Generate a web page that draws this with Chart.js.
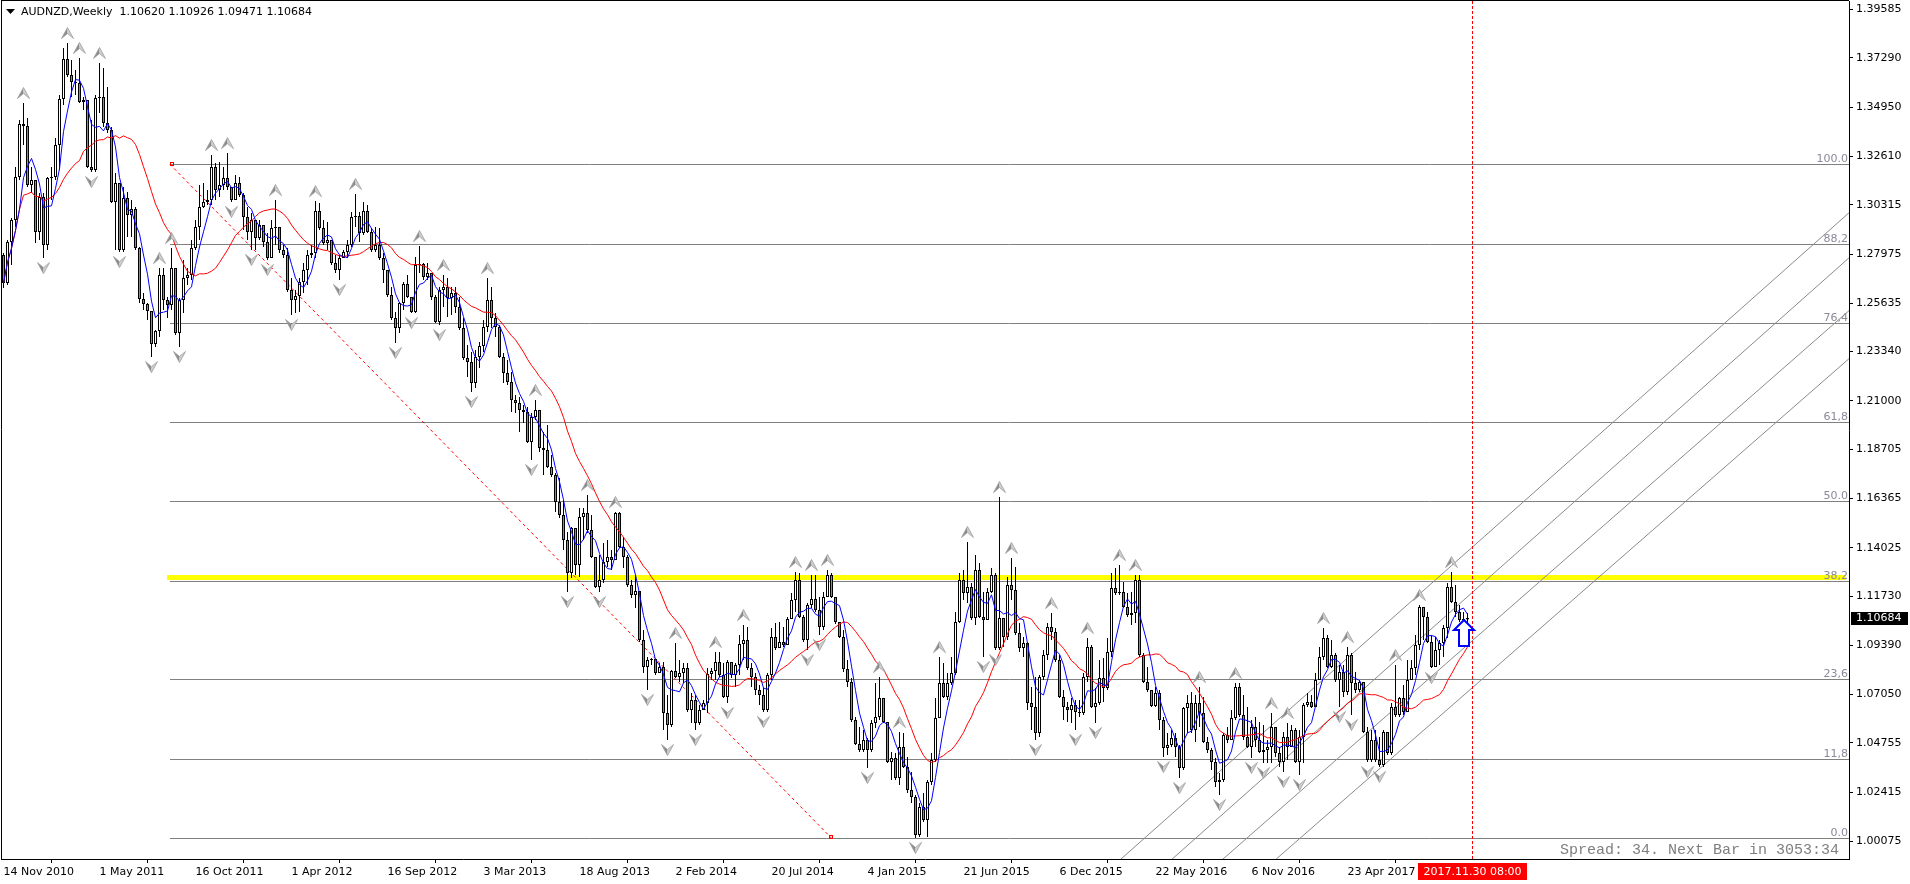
<!DOCTYPE html>
<html><head><meta charset="utf-8">
<script src="https://cdn.jsdelivr.net/npm/chart.js@4.4.0/dist/chart.umd.min.js"></script>
<style>html,body{margin:0;padding:0;background:#fff;overflow:hidden}canvas{display:block}</style>
</head><body><canvas id="c" width="1910" height="884"></canvas>
<script>
const symbolTitle = 'AUDNZD,Weekly  1.10620 1.10926 1.09471 1.10684';
const xTickBars = [0,24,48,72,96,120,144,168,192,216,240,264,288,312,336];
const xTickLabels = ['14 Nov 2010','1 May 2011','16 Oct 2011','1 Apr 2012','16 Sep 2012','3 Mar 2013','18 Aug 2013','2 Feb 2014','20 Jul 2014','4 Jan 2015','21 Jun 2015','6 Dec 2015','22 May 2016','6 Nov 2016','23 Apr 2017'];
const yTickLabels = ['1.39585','1.37290','1.34950','1.32610','1.30315','1.27975','1.25635','1.23340','1.21000','1.18705','1.16365','1.14025','1.11730','1.09390','1.07050','1.04755','1.02415','1.00075'];

const firstOpen = 1.2793;
const closes = [
1.2660,1.2855,1.2959,1.3163,1.3415,1.3406,1.3125,1.3149,1.2902,1.3068,
1.2840,1.3159,1.3163,1.3315,1.3534,1.3724,1.3648,1.3614,1.3610,1.3520,
1.3529,1.3211,1.3197,1.3539,1.3543,1.3420,1.3386,1.3045,1.3135,1.2817,
1.3064,1.2983,1.3011,1.2826,1.2584,1.2560,1.2527,1.2370,1.2432,1.2698,
1.2579,1.2555,1.2731,1.2422,1.2579,1.2683,1.2698,1.2826,1.2926,1.3021,
1.3045,1.3054,1.3211,1.3102,1.3125,1.3159,1.3116,1.3054,1.3135,1.3078,
1.2973,1.2902,1.2959,1.2873,1.2935,1.2855,1.2778,1.2921,1.2926,1.2817,
1.2793,1.2627,1.2579,1.2598,1.2665,1.2721,1.2793,1.2802,1.3002,1.2921,
1.2850,1.2864,1.2755,1.2721,1.2778,1.2807,1.2840,1.2973,1.2978,1.2897,
1.3002,1.2902,1.2817,1.2840,1.2778,1.2721,1.2603,1.2493,1.2446,1.2565,
1.2655,1.2593,1.2522,1.2745,1.2750,1.2688,1.2707,1.2593,1.2474,1.2627,
1.2641,1.2589,1.2612,1.2546,1.2446,1.2304,1.2285,1.2185,1.2308,1.2361,
1.2451,1.2579,1.2494,1.2451,1.2308,1.2232,1.2190,1.2104,1.2090,1.2057,
1.2047,1.1904,1.2023,1.2057,1.1876,1.1867,1.1786,1.1748,1.1619,1.1558,
1.1439,1.1282,1.1496,1.1320,1.1548,1.1567,1.1487,1.1358,1.1216,1.1249,
1.1335,1.1358,1.1344,1.1567,1.1406,1.1358,1.1225,1.1178,1.1197,1.0964,
1.0836,1.0869,1.0874,1.0807,1.0836,1.0617,1.0560,1.0817,1.0788,1.0807,
1.0831,1.0631,1.0679,1.0570,1.0631,1.0665,1.0803,1.0817,1.0860,1.0798,
1.0693,1.0860,1.0798,1.0845,1.0945,1.0964,1.0831,1.0788,1.0727,1.0703,
1.0631,1.0798,1.0978,1.0926,1.0954,1.0940,1.1064,1.1154,1.1249,1.1073,
1.0964,1.1130,1.1159,1.1107,1.1026,1.1168,1.1273,1.1168,1.1049,1.0978,
1.0826,1.0764,1.0584,1.0470,1.0441,1.0489,1.0441,1.0570,1.0598,1.0689,
1.0574,1.0384,1.0403,1.0308,1.0456,1.0361,1.0251,1.0218,1.0038,1.0171,
1.0109,1.0290,1.0394,1.0594,1.0760,1.0693,1.0760,1.0807,1.1049,1.1249,
1.1187,1.1216,1.1069,1.1297,1.1073,1.1059,1.1192,1.1273,1.0926,1.1069,
1.0978,1.1225,1.1202,1.0997,1.0926,1.0950,1.0665,1.0646,1.0522,1.0788,
1.0893,1.1026,1.1002,1.0869,1.0693,1.0646,1.0631,1.0655,1.0622,1.0617,
1.0788,1.0931,1.0646,1.0665,1.0783,1.0736,1.0907,1.1211,1.1187,1.1192,
1.1121,1.1083,1.1092,1.1249,1.0893,1.0764,1.0727,1.0650,1.0712,1.0584,
1.0451,1.0465,1.0498,1.0456,1.0356,1.0641,1.0665,1.0537,1.0665,1.0617,
1.0479,1.0441,1.0384,1.0290,1.0299,1.0513,1.0489,1.0594,1.0741,1.0608,
1.0503,1.0456,1.0551,1.0489,1.0432,1.0441,1.0456,1.0551,1.0427,1.0384,
1.0503,1.0456,1.0537,1.0384,1.0503,1.0655,1.0670,1.0646,1.0774,1.0883,
1.0974,1.0836,1.0893,1.0774,1.0812,1.0717,1.0893,1.0760,1.0727,1.0764,
1.0527,1.0394,1.0489,1.0394,1.0370,1.0527,1.0427,1.0646,1.0608,1.0689,
1.0622,1.0774,1.0831,1.0940,1.1121,1.1073,1.0955,1.0836,1.0916,1.0950,
1.1021,1.1216,1.1144,1.1097,1.1059,1.1062,1.10684];
const highs = [
1.2802,1.2864,1.2968,1.3211,1.3434,1.3515,1.3443,1.3211,1.3116,1.3087,
1.3087,1.3163,1.3211,1.3349,1.3553,1.3776,1.3800,1.3719,1.3672,1.3729,
1.3543,1.3496,1.3434,1.3553,1.3705,1.3681,1.3591,1.3401,1.3182,1.3102,
1.3116,1.3092,1.3054,1.3021,1.2831,1.2612,1.2565,1.2527,1.2437,1.2731,
1.2731,1.2593,1.2826,1.2731,1.2589,1.2769,1.2731,1.2864,1.2959,1.3125,
1.3135,1.3102,1.3268,1.3230,1.3235,1.3211,1.3277,1.3116,1.3173,1.3163,
1.3087,1.3021,1.2992,1.2959,1.2959,1.2935,1.2897,1.2959,1.3054,1.2926,
1.2840,1.2826,1.2683,1.2627,1.2683,1.2755,1.2817,1.2840,1.3049,1.3040,
1.2959,1.2950,1.2850,1.2793,1.2793,1.2817,1.2864,1.2997,1.3083,1.2997,
1.3045,1.3030,1.2921,1.2926,1.2921,1.2802,1.2721,1.2641,1.2522,1.2570,
1.2665,1.2698,1.2593,1.2783,1.2835,1.2755,1.2755,1.2707,1.2603,1.2641,
1.2698,1.2683,1.2641,1.2641,1.2593,1.2493,1.2365,1.2332,1.2341,1.2379,
1.2484,1.2683,1.2641,1.2517,1.2460,1.2327,1.2294,1.2237,1.2128,1.2118,
1.2080,1.2071,1.2042,1.2104,1.2018,1.1952,1.1985,1.1843,1.1757,1.1734,
1.1629,1.1477,1.1501,1.1496,1.1591,1.1591,1.1653,1.1558,1.1358,1.1368,
1.1425,1.1439,1.1392,1.1572,1.1572,1.1453,1.1368,1.1249,1.1273,1.1192,
1.1012,1.0883,1.0879,1.0860,1.0855,1.0860,1.0703,1.0822,1.0950,1.0869,
1.0855,1.0855,1.0712,1.0703,1.0655,1.0679,1.0831,1.0831,1.0907,1.0907,
1.0855,1.0869,1.0855,1.0855,1.0988,1.1035,1.1026,1.0855,1.0807,1.0750,
1.0736,1.0807,1.1021,1.1045,1.1049,1.1026,1.1073,1.1187,1.1287,1.1282,
1.1083,1.1140,1.1273,1.1273,1.1168,1.1192,1.1297,1.1282,1.1145,1.1045,
1.1012,1.0869,1.0783,1.0598,1.0551,1.0537,1.0498,1.0584,1.0760,1.0788,
1.0689,1.0574,1.0432,1.0427,1.0527,1.0522,1.0408,1.0337,1.0228,1.0190,
1.0237,1.0299,1.0427,1.0689,1.0883,1.0855,1.0807,1.0883,1.1097,1.1282,
1.1297,1.1430,1.1235,1.1368,1.1330,1.1192,1.1211,1.1306,1.1282,1.1643,
1.1069,1.1263,1.1354,1.1311,1.1045,1.0978,1.0955,1.0741,1.0788,1.0798,
1.0916,1.1045,1.1092,1.1021,1.0893,1.0727,1.0670,1.0689,1.0679,1.0679,
1.0807,1.0974,1.0940,1.0736,1.0869,1.0878,1.0974,1.1282,1.1306,1.1320,
1.1240,1.1187,1.1192,1.1273,1.1273,1.0902,1.0836,1.0717,1.0741,1.0727,
1.0598,1.0522,1.0537,1.0522,1.0465,1.0646,1.0703,1.0717,1.0703,1.0741,
1.0693,1.0503,1.0451,1.0403,1.0332,1.0522,1.0551,1.0631,1.0760,1.0760,
1.0703,1.0646,1.0584,1.0598,1.0574,1.0560,1.0489,1.0617,1.0551,1.0456,
1.0527,1.0570,1.0560,1.0546,1.0537,1.0665,1.0712,1.0703,1.0807,1.0931,
1.1021,1.0988,1.0964,1.0902,1.0845,1.0845,1.0931,1.0902,1.0812,1.0774,
1.0760,1.0551,1.0537,1.0537,1.0503,1.0537,1.0522,1.0665,1.0845,1.0693,
1.0750,1.0869,1.0869,1.0988,1.1130,1.1121,1.1097,1.0988,1.0978,1.0964,
1.1035,1.1235,1.1287,1.1225,1.1130,1.1097,1.10926];
const lows = [
1.2636,1.2650,1.2745,1.2926,1.3149,1.3315,1.3116,1.3087,1.2850,1.2864,
1.2778,1.2817,1.3054,1.3149,1.3197,1.3505,1.3638,1.3543,1.3553,1.3515,
1.3481,1.3206,1.3187,1.3187,1.3467,1.3401,1.3372,1.3040,1.2817,1.2807,
1.2807,1.2878,1.2878,1.2817,1.2565,1.2531,1.2484,1.2308,1.2356,1.2403,
1.2531,1.2493,1.2531,1.2413,1.2356,1.2517,1.2650,1.2674,1.2817,1.2864,
1.3016,1.3030,1.3030,1.3054,1.3068,1.3102,1.3102,1.3045,1.3054,1.3068,
1.2911,1.2864,1.2817,1.2817,1.2864,1.2831,1.2769,1.2778,1.2840,1.2802,
1.2778,1.2617,1.2508,1.2517,1.2522,1.2612,1.2650,1.2778,1.2778,1.2911,
1.2840,1.2817,1.2745,1.2707,1.2674,1.2778,1.2778,1.2831,1.2926,1.2855,
1.2888,1.2897,1.2807,1.2807,1.2769,1.2660,1.2593,1.2484,1.2375,1.2422,
1.2531,1.2589,1.2517,1.2517,1.2707,1.2674,1.2674,1.2579,1.2470,1.2460,
1.2546,1.2498,1.2508,1.2517,1.2437,1.2294,1.2213,1.2142,1.2161,1.2256,
1.2332,1.2427,1.2446,1.2403,1.2304,1.2185,1.2175,1.2047,1.2042,1.1952,
1.1995,1.1900,1.1819,1.2009,1.1857,1.1748,1.1781,1.1738,1.1572,1.1544,
1.1392,1.1192,1.1259,1.1273,1.1263,1.1439,1.1472,1.1354,1.1211,1.1192,
1.1235,1.1311,1.1297,1.1344,1.1401,1.1306,1.1216,1.1164,1.1116,1.0955,
1.0807,1.0727,1.0845,1.0798,1.0807,1.0537,1.0489,1.0551,1.0783,1.0764,
1.0760,1.0622,1.0570,1.0537,1.0560,1.0631,1.0617,1.0774,1.0774,1.0788,
1.0689,1.0665,1.0783,1.0741,1.0798,1.0869,1.0822,1.0741,1.0703,1.0655,
1.0622,1.0622,1.0774,1.0916,1.0931,1.0931,1.0940,1.1064,1.1097,1.1069,
1.0955,1.0916,1.1116,1.1097,1.0988,1.1012,1.1168,1.1164,1.1040,1.0973,
1.0812,1.0741,1.0574,1.0465,1.0432,1.0432,1.0356,1.0432,1.0546,1.0584,
1.0570,1.0380,1.0299,1.0299,1.0275,1.0356,1.0237,1.0190,1.0024,1.0028,
1.0099,1.0028,1.0275,1.0384,1.0594,1.0689,1.0679,1.0750,1.0798,1.1045,
1.1154,1.1140,1.1059,1.1035,1.1069,1.0883,1.1059,1.1187,1.0916,1.0916,
1.0931,1.0964,1.1154,1.0988,1.0907,1.0883,1.0631,1.0537,1.0489,1.0503,
1.0774,1.0869,1.0964,1.0860,1.0689,1.0584,1.0574,1.0570,1.0537,1.0598,
1.0608,1.0764,1.0641,1.0570,1.0655,1.0670,1.0727,1.0883,1.1178,1.1178,
1.1116,1.1073,1.1035,1.1045,1.0883,1.0760,1.0717,1.0646,1.0646,1.0537,
1.0408,1.0418,1.0456,1.0408,1.0308,1.0347,1.0522,1.0522,1.0479,1.0551,
1.0475,1.0427,1.0347,1.0266,1.0228,1.0290,1.0475,1.0489,1.0584,1.0598,
1.0489,1.0451,1.0404,1.0456,1.0427,1.0380,1.0380,1.0380,1.0408,1.0361,
1.0337,1.0394,1.0456,1.0380,1.0323,1.0380,1.0646,1.0641,1.0646,1.0774,
1.0869,1.0831,1.0831,1.0764,1.0646,1.0693,1.0703,1.0608,1.0712,1.0717,
1.0522,1.0384,1.0384,1.0384,1.0361,1.0361,1.0418,1.0418,1.0598,1.0598,
1.0608,1.0622,1.0774,1.0798,1.0916,1.0964,1.0950,1.0831,1.0836,1.0845,
1.0883,1.0974,1.1140,1.1073,1.1049,1.0978,1.09471];

const fastMaPeriod = 5;
const slowMaPeriod = 20;
const fibLevels = [0, 11.8, 23.6, 38.2, 50, 61.8, 76.4, 88.2, 100];
const fibLevelLabels = ['0.0','11,8','23,6','38,2','50.0','61,8','76,4','88,2','100.0'];
const fibAnchorHigh = {bar: 41.6, price: 1.3224};
const fibAnchorLow = {bar: 207.05, price: 1.0022};
const yellowLine = {fromBar: 40.9, price: 1.1261};
const channelLines = [
  [[279.1, 0.9919], [461.6, 1.2997]],
  [[291.9, 0.9919], [461.6, 1.2783]],
  [[304.6, 0.9919], [461.6, 1.2532]],
  [[317.9, 0.9919], [461.6, 1.2304]]
];
const cursorBar = 367.05;
const cursorLabel = '2017.11.30 08:00';
const lastPrice = 1.10684;
const arrowUp = {bar: 365, price: 1.1059};
const spreadText = 'Spread: 34. Next Bar in 3053:34';

// ---- derived structures ----
const n = closes.length;
const idx = closes.map((_, i) => i);
const opens = [firstOpen].concat(closes.slice(0, n - 1));
const hi = idx.map(i => Math.max(highs[i], opens[i], closes[i]));
const lo = idx.map(i => Math.min(lows[i], opens[i], closes[i]));
function sma(p) {
  return idx.map(i => { const s = Math.max(0, i - p + 1); let t = 0; for (let k = s; k <= i; k++) t += closes[k]; return {x: i, y: t / (i - s + 1)}; });
}
const upFr = [], dnFr = [];
for (let i = 2; i < n - 2; i++) {
  if (hi[i] > hi[i-1] && hi[i] > hi[i-2] && hi[i] >= hi[i+1] && hi[i] >= hi[i+2]) upFr.push({x: i, y: hi[i]});
  if (lo[i] < lo[i-1] && lo[i] < lo[i-2] && lo[i] <= lo[i+1] && lo[i] <= lo[i+2]) dnFr.push({x: i, y: lo[i]});
}
function fractalIcon(up) {
  const c = document.createElement('canvas'); c.width = 13; c.height = 32;
  const g = c.getContext('2d');
  const t = up ? 0.5 : 31.5, d = up ? 1 : -1;
  const tip = [6.5, t], L = [0.5, t + 11 * d], R = [12.5, t + 11 * d], N = [6.5, t + 6 * d];
  g.fillStyle = '#8a8a8a';
  g.beginPath(); g.moveTo(...tip); g.lineTo(...L); g.lineTo(...N); g.closePath(); g.fill();
  g.fillStyle = '#d0d0d0';
  g.beginPath(); g.moveTo(...tip); g.lineTo(...N); g.lineTo(...R); g.closePath(); g.fill();
  g.strokeStyle = '#9c9c9c'; g.lineWidth = 0.8;
  g.beginPath(); g.moveTo(...tip); g.lineTo(...L); g.lineTo(...N); g.lineTo(...R); g.closePath(); g.stroke();
  return c;
}

const FONT = 'DejaVu Sans';
const pxPerUnit = 2105.26;
const yMax = 1.39993;
const yMin = yMax - 858 / pxPerUnit;
const xMin = -0.625;
const xMax = xMin + 1848 / 4;

const annotations = {
  id: 'annotations',
  beforeDatasetsDraw(chart) {
    const {ctx, chartArea: a, scales: {x, y}} = chart;
    ctx.save();
    ctx.beginPath(); ctx.rect(a.left, a.top, a.right - a.left, a.bottom - a.top); ctx.clip();
    // yellow level
    const yy = y.getPixelForValue(yellowLine.price);
    const yx = Math.round(x.getPixelForValue(yellowLine.fromBar));
    ctx.fillStyle = '#ffff00';
    ctx.fillRect(yx, Math.round(yy - 2.5), a.right - 3 - yx, 5);
    // fibo levels
    const fx = Math.round(x.getPixelForValue(fibAnchorHigh.bar));
    ctx.strokeStyle = '#808080'; ctx.lineWidth = 1;
    const fibY = fibLevels.map(lv => Math.round(y.getPixelForValue(fibAnchorLow.price + (fibAnchorHigh.price - fibAnchorLow.price) * lv / 100)) + 0.5);
    fibY.forEach(py => { ctx.beginPath(); ctx.moveTo(fx, py); ctx.lineTo(a.right, py); ctx.stroke(); });
    // channel
    ctx.strokeStyle = '#8a8a8a';
    channelLines.forEach(l => {
      ctx.beginPath();
      ctx.moveTo(x.getPixelForValue(l[0][0]), y.getPixelForValue(l[0][1]));
      ctx.lineTo(x.getPixelForValue(l[1][0]), y.getPixelForValue(l[1][1]));
      ctx.stroke();
    });
    // fibo diagonal
    ctx.strokeStyle = '#ff0000'; ctx.setLineDash([3, 3]);
    const x1 = x.getPixelForValue(fibAnchorHigh.bar), y1 = y.getPixelForValue(fibAnchorHigh.price);
    const x2 = x.getPixelForValue(fibAnchorLow.bar), y2 = y.getPixelForValue(fibAnchorLow.price);
    ctx.beginPath(); ctx.moveTo(x1, y1); ctx.lineTo(x2, y2); ctx.stroke();
    ctx.setLineDash([]);
    ctx.strokeRect(Math.round(x1) + 0.5, Math.round(y1) - 1.5, 3, 3);
    ctx.strokeRect(Math.round(x2) - 2.5, Math.round(y2) - 2.5, 3, 3);
    // cursor vertical
    const cx = Math.round(x.getPixelForValue(cursorBar)) + 0.5;
    ctx.setLineDash([3, 2]);
    ctx.beginPath(); ctx.moveTo(cx, a.top); ctx.lineTo(cx, a.bottom); ctx.stroke();
    ctx.setLineDash([]);
    // fibo labels
    ctx.font = '11px "' + FONT + '"';
    ctx.fillStyle = '#8a8a9a'; ctx.textAlign = 'right'; ctx.textBaseline = 'alphabetic';
    fibY.forEach((py, k) => ctx.fillText(fibLevelLabels[k], a.right - 1, py - 3));
    ctx.restore();
  },
  afterDatasetsDraw(chart) {
    const {ctx, scales: {x, y}} = chart;
    const cx = Math.round(x.getPixelForValue(arrowUp.bar)), ty = Math.round(y.getPixelForValue(arrowUp.price));
    ctx.save();
    ctx.beginPath();
    ctx.moveTo(cx, ty); ctx.lineTo(cx + 10, ty + 10); ctx.lineTo(cx + 5, ty + 10); ctx.lineTo(cx + 5, ty + 26);
    ctx.lineTo(cx - 5, ty + 26); ctx.lineTo(cx - 5, ty + 10); ctx.lineTo(cx - 10, ty + 10); ctx.closePath();
    ctx.fillStyle = '#ffffff'; ctx.fill();
    ctx.strokeStyle = '#0000ff'; ctx.lineWidth = 2; ctx.stroke();
    ctx.restore();
  },
  afterDraw(chart) {
    const {ctx, chartArea: a, scales: {x, y}} = chart;
    ctx.save();
    // frame
    ctx.strokeStyle = '#000'; ctx.lineWidth = 1;
    ctx.beginPath(); ctx.moveTo(1.5, 0); ctx.lineTo(1.5, a.bottom); ctx.moveTo(1, 0.5); ctx.lineTo(a.right, 0.5); ctx.stroke();
    // title
    ctx.fillStyle = '#000';
    ctx.beginPath(); ctx.moveTo(6, 9); ctx.lineTo(15, 9); ctx.lineTo(10.5, 14); ctx.closePath(); ctx.fill();
    ctx.font = '11px "' + FONT + '"'; ctx.textAlign = 'left'; ctx.textBaseline = 'middle';
    ctx.fillText(symbolTitle, 21, 12.5);
    // price tag
    const py = Math.round(y.getPixelForValue(lastPrice));
    ctx.fillStyle = '#000'; ctx.fillRect(a.right + 2, py - 6, 57, 13);
    ctx.fillStyle = '#fff'; ctx.fillText(lastPrice.toFixed(5), a.right + 7, py + 0.5);
    // cursor date tag
    const cx = Math.round(x.getPixelForValue(cursorBar)) + 0.5;
    const w = Math.ceil(ctx.measureText(cursorLabel).width) + 10;
    ctx.fillStyle = '#ff0000'; ctx.fillRect(Math.round(cx - w / 2), a.bottom + 4, w, 17);
    ctx.fillStyle = '#fff'; ctx.textAlign = 'center'; ctx.fillText(cursorLabel, cx, a.bottom + 13);
    // spread
    ctx.font = '15px "Liberation Mono"'; ctx.fillStyle = '#808080'; ctx.textAlign = 'right';
    ctx.fillText(spreadText, a.right - 10, a.bottom - 9);
    ctx.restore();
  }
};

const axisFont = {family: FONT, size: 11};
new Chart(document.getElementById('c'), {
  type: 'bar',
  data: {
    datasets: [
      {type: 'scatter', data: upFr, pointStyle: fractalIcon(true), pointRadius: 6, order: 0},
      {type: 'scatter', data: dnFr, pointStyle: fractalIcon(false), pointRadius: 6, order: 0},
      {type: 'line', data: sma(fastMaPeriod), borderColor: '#0000ff', borderWidth: 1, pointRadius: 0, tension: 0, order: 1},
      {type: 'line', data: sma(slowMaPeriod), borderColor: '#ff0000', borderWidth: 1, pointRadius: 0, tension: 0, order: 2},
      {type: 'bar', data: idx.map(i => ({x: i, y: [Math.min(opens[i], closes[i]), Math.max(opens[i], closes[i])]})),
       backgroundColor: idx.map(i => closes[i] >= opens[i] ? '#ffffff' : '#8c8c8c'),
       borderColor: '#000', borderWidth: 1, borderSkipped: false, barThickness: 3, minBarLength: 1,
       grouped: false, inflateAmount: 0, order: 3},
      {type: 'bar', data: idx.map(i => ({x: i, y: [lo[i], hi[i]]})), backgroundColor: '#000', borderWidth: 0,
       barThickness: 1, grouped: false, inflateAmount: 0, order: 4}
    ]
  },
  options: {
    responsive: false, animation: false, devicePixelRatio: 1,
    layout: {autoPadding: false, padding: {left: 1, top: 1, right: 0, bottom: 0}},
    plugins: {legend: {display: false}, tooltip: {enabled: false}, title: {display: false}},
    events: [],
    scales: {
      x: {type: 'linear', min: xMin, max: xMax, offset: false,
        afterBuildTicks: s => { s.ticks = xTickBars.map(v => ({value: v})); },
        afterFit: s => { s.height = 25; s.paddingLeft = 0; s.paddingRight = 0; s.paddingTop = 0; s.paddingBottom = 0; },
        ticks: {autoSkip: false, maxRotation: 0, minRotation: 0, align: 'start', padding: 3, color: '#000', font: axisFont,
          callback: (v, i) => xTickLabels[i]},
        grid: {drawOnChartArea: false, drawTicks: true, tickLength: 4, color: '#000'},
        border: {display: true, color: '#000', width: 1}},
      y: {type: 'linear', position: 'right', min: yMin, max: yMax,
        afterBuildTicks: s => { s.ticks = yTickLabels.map(t => ({value: parseFloat(t)})); },
        afterFit: s => { s.width = 61; s.paddingTop = 0; s.paddingBottom = 0; s.paddingLeft = 0; s.paddingRight = 0; },
        ticks: {autoSkip: false, padding: 3, color: '#000', font: axisFont, callback: (v, i) => yTickLabels[i]},
        grid: {drawOnChartArea: false, drawTicks: true, tickLength: 4, color: '#000'},
        border: {display: true, color: '#000', width: 1}}
    }
  },
  plugins: [annotations]
});
</script>
</body></html>
